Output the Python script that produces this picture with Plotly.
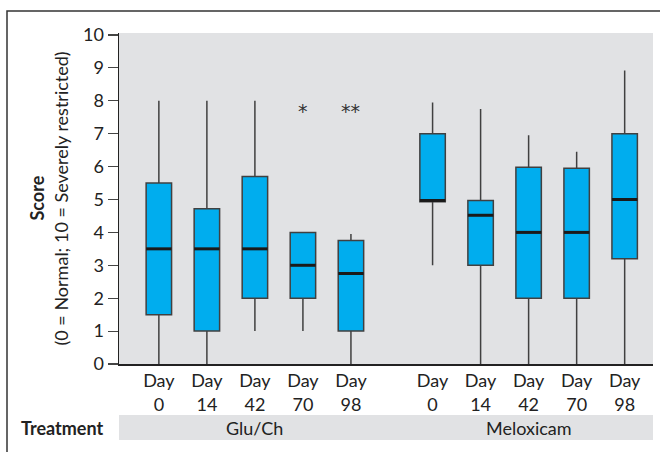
import plotly.graph_objects as go

# ---- data ----
groups = ["Glu/Ch", "Meloxicam"]
days = ["0", "14", "42", "70", "98"]
positions_glu = [0, 1, 2, 3, 4]
positions_mel = [5.7, 6.7, 7.7, 8.7, 9.7]

glu_min = [0, 0, 1, 1, 0]
glu_q1 = [1.5, 1.0, 2.0, 2.0, 1.0]
glu_med = [3.5, 3.5, 3.5, 3.0, 2.75]
glu_q3 = [5.5, 4.72, 5.7, 4.0, 3.75]
glu_max = [8.0, 8.0, 8.0, 4.0, 3.95]

mel_min = [3.0, 0, 0, 0, 0]
mel_q1 = [4.93, 3.0, 2.0, 2.0, 3.2]
mel_med = [4.97, 4.52, 4.0, 4.0, 5.0]
mel_q3 = [7.0, 4.97, 5.98, 5.95, 7.0]
mel_max = [7.95, 7.75, 6.95, 6.45, 8.92]

sig_marks = ["*", "**"]
sig_pos = [3, 4]
sig_y = [7.7, 7.7]

# ---- style ----
FONT = "Lato"
FS = 18
BOX_FILL = "#00ADEE"
EDGE = "#404040"
BG = "#E1E2E4"
BOX_W = 0.53

W, H = 660, 452
ML, MR, MT, MB = 119, 7, 33, 88
PW, PH = W - ML - MR, H - MT - MB

def px_x(px):
    return (px - ML) / PW

def px_y(py):
    return (H - MB - py) / PH

positions = positions_glu + positions_mel
q1 = glu_q1 + mel_q1
med = glu_med + mel_med
q3 = glu_q3 + mel_q3
lo = glu_min + mel_min
hi = glu_max + mel_max

fig = go.Figure()
fig.add_trace(go.Box(
    x=positions, q1=q1, median=med, q3=q3, lowerfence=lo, upperfence=hi,
    width=BOX_W, fillcolor=BOX_FILL, line=dict(color=EDGE, width=1.5),
    whiskerwidth=0, boxpoints=False, showlegend=False, hoverinfo="skip",
))

# thicker median lines
mx, my = [], []
for p, m in zip(positions, med):
    mx += [p - BOX_W / 2, p + BOX_W / 2, None]
    my += [m, m, None]
fig.add_trace(go.Scatter(x=mx, y=my, mode="lines",
                         line=dict(color="#1a1a1a", width=3),
                         showlegend=False, hoverinfo="skip"))

tick_text = ["Day<br>" + d for d in days] * 2

fig.update_layout(
    width=W, height=H,
    margin=dict(l=ML, r=MR, t=MT, b=MB),
    paper_bgcolor="white", plot_bgcolor=BG,
    font=dict(family=FONT, size=FS, color="#222"),
    xaxis=dict(range=[-0.83, 10.29], tickmode="array", tickvals=positions,
               ticktext=tick_text, showgrid=False, zeroline=False,
               showline=True, linecolor="#222", linewidth=1.5, ticks="",
               tickfont=dict(size=FS, family=FONT, color="#222")),
    yaxis=dict(range=[0, 10.06], tickmode="array", tickvals=list(range(0, 11)),
               showgrid=False, zeroline=False, showline=True,
               linecolor="#222", linewidth=1.5, ticks="outside", ticklen=10,
               tickwidth=1.2, tickcolor="#444",
               tickfont=dict(size=FS, family=FONT, color="#222")),
)

annotations = []
for s, p, yv in zip(sig_marks, sig_pos, sig_y):
    annotations.append(dict(x=p, y=yv, xref="x", yref="y", text=s,
                            showarrow=False,
                            font=dict(size=19, family="DejaVu Sans", color="#333")))

# y-axis title (two lines)
annotations.append(dict(x=px_x(36), y=0.5, xref="paper", yref="paper",
                        text="<b>Score</b>", textangle=-90, showarrow=False,
                        xanchor="center", yanchor="middle",
                        font=dict(size=FS, color="#222")))
annotations.append(dict(x=px_x(60), y=0.5, xref="paper", yref="paper",
                        text="(0 = Normal; 10 = Severely restricted)",
                        textangle=-90, showarrow=False,
                        xanchor="center", yanchor="middle",
                        font=dict(size=FS, color="#222")))

# treatment band labels
band_y = px_y(427.5)
annotations.append(dict(x=px_x(62), y=band_y, xref="paper", yref="paper",
                        text="<b>Treatment</b>", showarrow=False,
                        xanchor="center", yanchor="middle",
                        font=dict(size=FS, color="#222")))
glu_center = positions_glu[2]
mel_center = positions_mel[2]
for g, c in zip(groups, [glu_center, mel_center]):
    annotations.append(dict(x=c, y=band_y, xref="x", yref="paper", text=g,
                            showarrow=False, xanchor="center", yanchor="middle",
                            font=dict(size=FS, color="#222")))
fig.update_layout(annotations=annotations)

shapes = [
    dict(type="rect", xref="paper", yref="paper", x0=0, x1=1,
         y0=px_y(440), y1=px_y(415), fillcolor=BG, line=dict(width=0),
         layer="below"),
    dict(type="path", xref="paper", yref="paper",
         path=f"M {px_x(7)},{px_y(460)} L {px_x(7)},{px_y(11)} L {px_x(665)},{px_y(11)}",
         line=dict(color="#333", width=1.5)),
]
fig.update_layout(shapes=shapes)

fig.write_html("out.html", config={"displayModeBar": False, "staticPlot": True})

# remove default page margin so the figure sits at the window origin
with open("out.html", "r", encoding="utf-8") as f:
    html = f.read()
html = html.replace("<head>", "<head><style>html,body{margin:0;padding:0;overflow:hidden;}</style>", 1)
with open("out.html", "w", encoding="utf-8") as f:
    f.write(html)
